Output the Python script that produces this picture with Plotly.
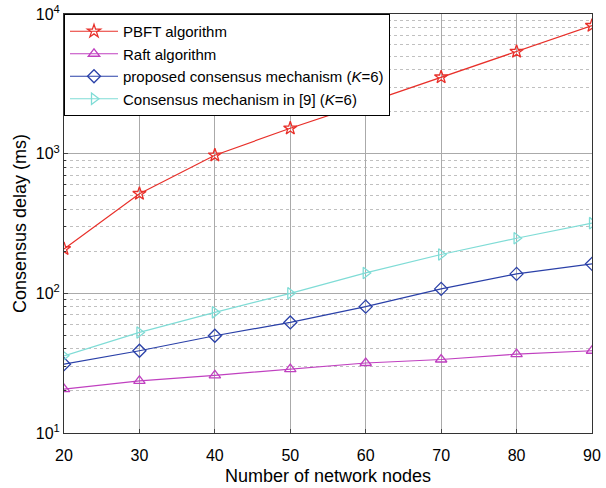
import plotly.graph_objects as go

nodes = [20, 30, 40, 50, 60, 70, 80, 90]
pbft = [208, 517, 975, 1520, 2300, 3530, 5380, 8250]
raft = [20.6, 23.6, 25.9, 28.7, 31.7, 33.6, 36.7, 38.8]
proposed = [31.1, 38.8, 49.7, 61.9, 80.3, 107.6, 137.8, 162.6]
ref9 = [35.7, 52.5, 73.1, 100, 140, 189.6, 248, 318]

x_ticks = [20, 30, 40, 50, 60, 70, 80, 90]
y_ticks = [10, 100, 1000, 10000]
y_ticktext = ["10<sup>1</sup>", "10<sup>2</sup>", "10<sup>3</sup>", "10<sup>4</sup>"]
y_minor = [m * d for d in [10, 100, 1000] for m in range(2, 10)]

series = [
    ("PBFT algorithm", pbft, "#e8302a", "star-open", 10),
    ("Raft algorithm", raft, "#c040c0", "triangle-up-open", 10),
    ("proposed consensus mechanism (<i>K</i>=6)", proposed, "#2a40a8", "diamond-open", 10),
    ("Consensus mechanism in [9] (<i>K</i>=6)", ref9, "#7fdcd6", "triangle-right-open", 10),
]

fig = go.Figure()
for name, vals, color, sym, sz in series:
    fig.add_trace(go.Scatter(
        x=nodes, y=vals, name=name, mode="lines+markers",
        line=dict(color=color, width=1.2),
        marker=dict(symbol=sym, size=sz, color=color, line=dict(color=color, width=1.3)),
    ))

fig.update_layout(
    width=606, height=488,
    margin=dict(l=64, r=14, t=14, b=55, autoexpand=False),
    paper_bgcolor="white", plot_bgcolor="white",
    font=dict(family="Liberation Sans, Arial, sans-serif", size=15, color="black"),
    legend=dict(
        x=0, y=1, xanchor="left", yanchor="top",
        bgcolor="white", bordercolor="black", borderwidth=1,
        font=dict(size=15), tracegroupgap=0, itemwidth=48,
    ),
    showlegend=True,
)

fig.update_xaxes(
    range=[20, 90], tickvals=x_ticks, ticks="inside", ticklen=4,
    showline=True, linecolor="#333", linewidth=1, mirror=True,
    showgrid=True, gridcolor="#aaaaaa", gridwidth=1,
    zeroline=False, automargin=False, ticklabelstandoff=8,
    ticklabeloverflow="allow",
    title=dict(text="Number of network nodes", font=dict(size=18), standoff=6),
    tickfont=dict(size=16),
)
fig.update_yaxes(
    type="log", range=[1, 4], tickvals=y_ticks, ticktext=y_ticktext,
    ticks="inside", ticklen=4,
    showline=True, linecolor="#333", linewidth=1, mirror=True,
    showgrid=True, gridcolor="#aaaaaa", gridwidth=1,
    zeroline=False, automargin=False, ticklabeloverflow="allow",
    minor=dict(tickvals=y_minor, showgrid=True, gridcolor="#c0c0c0",
               griddash="dot", ticks="inside", ticklen=2, tickcolor="#333"),
    title=dict(text="Consensus delay (ms)", font=dict(size=18), standoff=4),
    tickfont=dict(size=16),
)

fig.write_html("out.html", config={"displayModeBar": False},
               post_script="document.body.style.margin='0';")
